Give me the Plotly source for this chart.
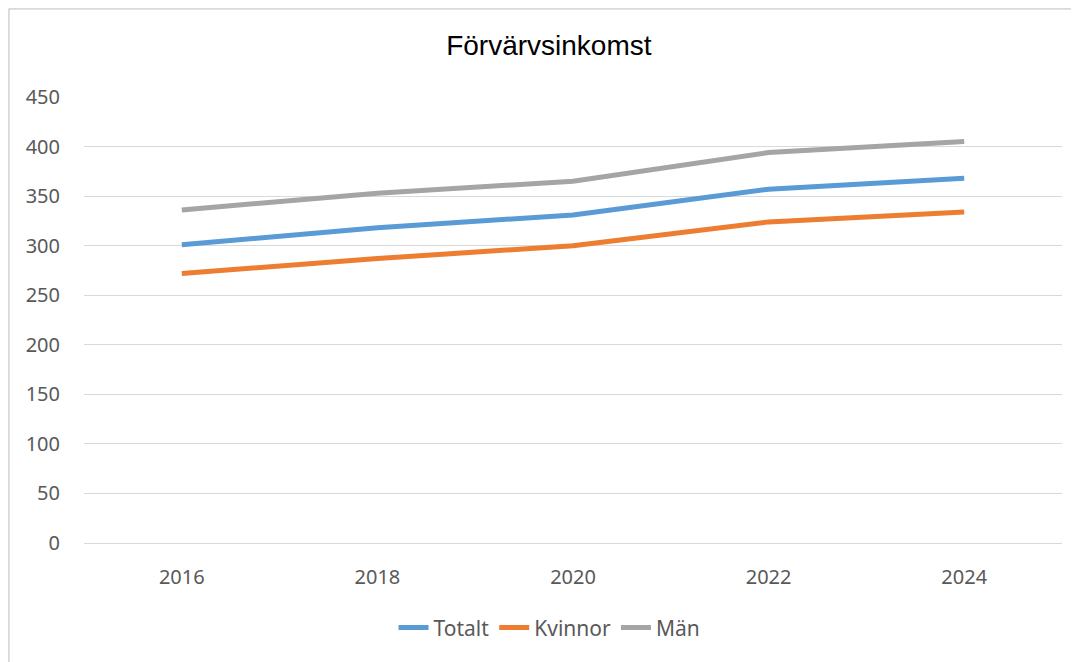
import plotly.graph_objects as go

years = ["2016", "2018", "2020", "2022", "2024"]

series = {
    "Totalt": ([301, 318, 331, 357, 368], "#5B9BD5"),
    "Kvinnor": ([272, 287, 300, 324, 334], "#ED7D31"),
    "Män": ([336, 353, 365, 394, 405], "#A5A5A5"),
}

fig = go.Figure()
for name, (values, color) in series.items():
    fig.add_trace(go.Scatter(
        x=years, y=values,
        mode="lines",
        line=dict(color=color, width=5),
        name=name,
    ))

tick_font = dict(family="Noto Sans, Open Sans, sans-serif", size=20, color="#595959")
border = dict(color="#D9D9D9", width=2)

# page body adds an 8px offset, so the figure is drawn 8px smaller
fig.update_layout(
    width=1071,
    height=654,
    plot_bgcolor="white",
    paper_bgcolor="white",
    margin=dict(l=76, r=17, t=89, b=119),
    title=dict(
        text="Förvärvsinkomst",
        x=0.505, xanchor="center",
        y=0.943, yanchor="middle",
        font=dict(family="Liberation Sans, sans-serif", size=28, color="#000000"),
    ),
    xaxis=dict(
        type="category",
        range=[-0.5, 4.5],
        showgrid=False,
        showline=False,
        ticks="outside",
        ticklen=16,
        tickcolor="white",
        tickfont=tick_font,
    ),
    yaxis=dict(
        range=[0, 450],
        dtick=50,
        gridcolor="#D9D9D9",
        gridwidth=1,
        zeroline=True,
        zerolinecolor="#D9D9D9",
        zerolinewidth=1,
        showline=False,
        ticks="outside",
        ticklen=19,
        tickcolor="white",
        tickfont=tick_font,
    ),
    legend=dict(
        orientation="h",
        x=0.476, xanchor="center",
        y=-0.19, yanchor="middle",
        font=dict(family="Noto Sans, Open Sans, sans-serif", size=21, color="#595959"),
    ),
    showlegend=True,
    shapes=[
        # chart frame: top and left edges only
        dict(type="line", xref="paper", yref="paper",
             x0=-0.0769, x1=1.1, y0=1.1979, y1=1.1979, line=border, layer="below"),
        dict(type="line", xref="paper", yref="paper",
             x0=-0.0769, x1=-0.0769, y0=-0.4, y1=1.1979, line=border, layer="below"),
    ],
)

fig.write_html("out.html")
